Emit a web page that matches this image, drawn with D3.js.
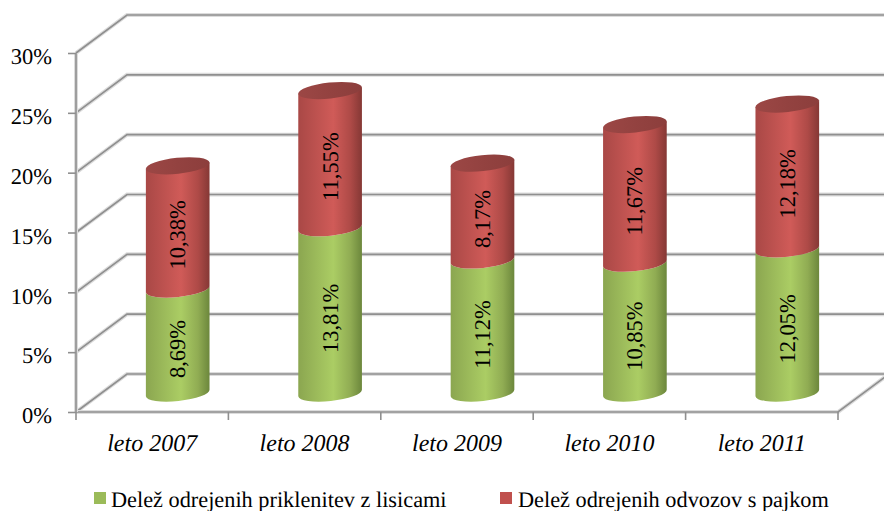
<!DOCTYPE html>
<html><head><meta charset="utf-8">
<script src="https://cdn.jsdelivr.net/npm/d3@7"></script>
<style>html,body{margin:0;padding:0;background:#fff}svg{display:block}text{font-family:"Liberation Serif",serif;fill:#000;text-rendering:geometricPrecision}</style>
</head><body><svg id="c" width="884" height="511"></svg>
<script>
const categories=["leto 2007","leto 2008","leto 2009","leto 2010","leto 2011"];
const seriesGreen=[8.69,13.81,11.12,10.85,12.05];
const seriesRed=[10.38,11.55,8.17,11.67,12.18];
const seriesNames=["Delež odrejenih priklenitev z lisicami","Delež odrejenih odvozov s pajkom"];
const yTicks=[0,5,10,15,20,25,30];

const svg=d3.select("#c");
const W=884,H=511;
const depthX=51,depthY=38,rx=32,ry=8,tilt=6;
const x=d3.scaleBand().domain(categories).range([76,838]);
const y=d3.scaleLinear().domain([0,30]).range([412,53]);
const fmt=v=>v.toFixed(2).replace(".",",")+"%";

const defs=svg.append("defs");
function grad(id,stops){
  const g=defs.append("linearGradient").attr("id",id).attr("x1",0).attr("x2",1).attr("y1",0).attr("y2",0);
  stops.forEach(s=>g.append("stop").attr("offset",s[0]).attr("stop-color",s[1]));
}
grad("gG",[[0,"#8ba650"],[.55,"#abcd64"],[.82,"#90ac53"],[1,"#6c873c"]]);
grad("gR",[[0,"#a94846"],[.55,"#d05b58"],[.82,"#ae4a47"],[1,"#853835"]]);
grad("gT",[[0,"#9c4745"],[.5,"#934240"],[1,"#8c3e3c"]]);

function gridLine(pts){
  const l=d3.line();
  svg.append("path").attr("d",l(pts)).attr("fill","none").attr("stroke","#dcdcdc").attr("stroke-width",4);
  svg.append("path").attr("d",l(pts)).attr("fill","none").attr("stroke","#8f8f8f").attr("stroke-width",1.6);
}
yTicks.forEach(t=>{
  gridLine([[76,y(t)],[76+depthX,y(t)-depthY],[W+2,y(t)-depthY]]);
});
gridLine([[76,y(0)],[838,y(0)],[838+depthX,y(0)-depthY]]);
gridLine([[76,y(30)],[76,y(0)]]);

const axisY=d3.axisLeft(y).tickValues(yTicks).tickSize(8).tickPadding(16).tickFormat(d=>d+"%");
const gy=svg.append("g").attr("transform","translate(76,0)").call(axisY);
gy.select(".domain").remove();
gy.selectAll("line").attr("stroke","#8f8f8f").attr("stroke-width",1.6);
gy.selectAll("text").style("font-size","22.5px").attr("dy","0.48em").attr("fill","#000");

const axisX=d3.axisBottom(x).tickSize(0).tickPadding(22);
const gx=svg.append("g").attr("transform","translate(0,412)").call(axisX);
gx.select(".domain").remove();
gx.selectAll("text").style("font-size","24px").style("font-style","italic").attr("fill","#000");
const bounds=categories.map(c=>x(c)).concat([x(categories[categories.length-1])+x.bandwidth()]);
svg.selectAll(".bt").data(bounds).join("line").attr("x1",d=>d).attr("x2",d=>d).attr("y1",412).attr("y2",420).attr("stroke","#8f8f8f").attr("stroke-width",1.6);

const a=tilt*Math.PI/180,ex=rx*Math.cos(a),ey=rx*Math.sin(a);
function seg(cx,yb,yt){
  return `M${cx-ex},${yt+ey}A${rx},${ry} ${-tilt} 0 0 ${cx+ex},${yt-ey}L${cx+ex},${yb-ey}A${rx},${ry} ${-tilt} 0 1 ${cx-ex},${yb+ey}Z`;
}
function topE(cx,yt){
  return `M${cx-ex},${yt+ey}A${rx},${ry} ${-tilt} 1 1 ${cx+ex},${yt-ey}A${rx},${ry} ${-tilt} 1 1 ${cx-ex},${yt+ey}Z`;
}
const cxOf=c=>x(c)+x.bandwidth()/2+depthX/2;
const yy=v=>y(v)-depthY/2;
categories.forEach((c,i)=>{
  const g0=seriesGreen[i],r0=seriesRed[i],cx=cxOf(c);
  svg.append("path").attr("d",seg(cx,yy(0),yy(g0))).attr("fill","url(#gG)");
  svg.append("path").attr("d",seg(cx,yy(g0),yy(g0+r0))).attr("fill","url(#gR)");
  svg.append("path").attr("d",topE(cx,yy(g0+r0)+1)).attr("fill","url(#gT)");
  [[g0/2,g0],[g0+r0/2,r0]].forEach(p=>{
    svg.append("text").attr("transform",`translate(${cx},${yy(p[0])+8}) rotate(-90)`)
      .attr("text-anchor","middle").attr("dy","0.33em").style("font-size","22.5px").text(fmt(p[1]));
  });
});

const leg=[[94,"#9bbb59",111],[500,"#c0504d",518]];
seriesNames.forEach((n,i)=>{
  svg.append("rect").attr("x",leg[i][0]).attr("y",492).attr("width",12).attr("height",12).attr("fill",leg[i][1]);
  svg.append("text").attr("x",leg[i][2]).attr("y",507).style("font-size","22.3px").text(n);
});
</script></body></html>
